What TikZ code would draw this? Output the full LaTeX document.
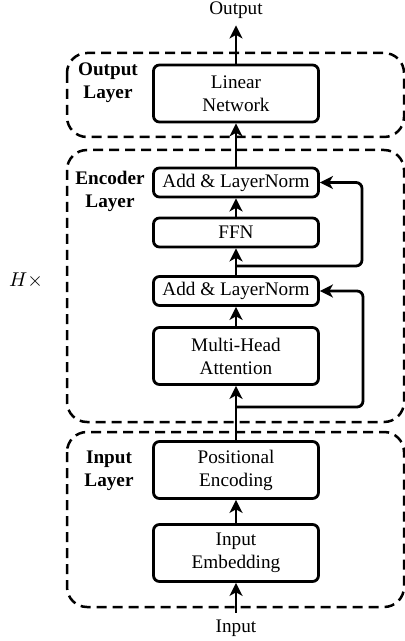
\documentclass[tikz,border=0pt]{standalone}
\usepackage{fontspec}
\setmainfont{Liberation Serif}
\usetikzlibrary{arrows.meta}
\usetikzlibrary{positioning}

\begin{document}
\begin{tikzpicture}
    [x=0.5pt,y=-0.5pt,
    font=\fontsize{9.6}{11.5}\selectfont,
    onebox/.style={rectangle,draw=black,line width=1.4pt,rounded corners=3pt,
      align=center,inner sep=0pt,minimum width=82.5pt,minimum height=14.5pt},
    twobox/.style={onebox,minimum height=28.5pt},
    frame/.style={draw=black,line width=1.25pt,dash pattern=on 5pt off 3pt,
      rounded corners=10pt},
    layer label/.style={align=center,font=\fontsize{9.6}{11.5}\selectfont\bfseries},
    flow/.style={line width=1.4pt,-{Stealth[length=6.5pt,width=6.5pt,inset=1.8pt]}}]

    \useasboundingbox (0,0) rectangle (405,641);

    % dashed layer frames
    \draw[frame] (67,53) rectangle (404,137);
    \draw[frame] (67,150) rectangle (404,422);
    \draw[frame] (67,432) rectangle (404,607);

    \node (output layer) at (108,83) [layer label] {Output\\Layer};
    \node (encoder layer) at (110,191) [layer label] {Encoder\\Layer};
    \node (input layer) at (109,471) [layer label] {Input\\Layer};
    \node (repeat) at (26,280) {$H\times$};

    \node (output) at (236,10) {Output};
    \node (linear) at (236,93.5) [twobox] {Linear\\Network};

    \node (add norm 1) at (236,182.5) [onebox] {Add \& LayerNorm};
    \node (ffn) at (236,232.5) [onebox] {FFN};
    \node (add norm 2) at (236,291) [onebox] {Add \& LayerNorm};
    \node (attention) at (236,356) [twobox] {Multi-Head\\Attention};

    \node (pos enc) at (236,470) [twobox] {Positional\\Encoding};
    \node (embed) at (236,553) [twobox] {Input\\Embedding};
    \node (input) at (236,628) {Input};

    \coordinate (split 1) at (236,266);
    \coordinate (split 2) at (236,407);

    % main path
    \draw[flow] (input) -- (embed);
    \draw[flow] (embed) -- (pos enc);
    \draw[flow] (pos enc) -- (attention);
    \draw[flow] (attention) -- (add norm 2);
    \draw[flow] (add norm 2) -- (ffn);
    \draw[flow] (ffn) -- (add norm 1);
    \draw[flow] (add norm 1) -- (linear);
    \draw[flow] (linear) -- (output);

    % residual connections
    \draw[flow,rounded corners=3pt] (split 1) -- ++(126,0) |- (add norm 1.east);
    \draw[flow,rounded corners=3pt] (split 2) -- ++(127,0) |- (add norm 2.east);

  \end{tikzpicture}
\end{document}
